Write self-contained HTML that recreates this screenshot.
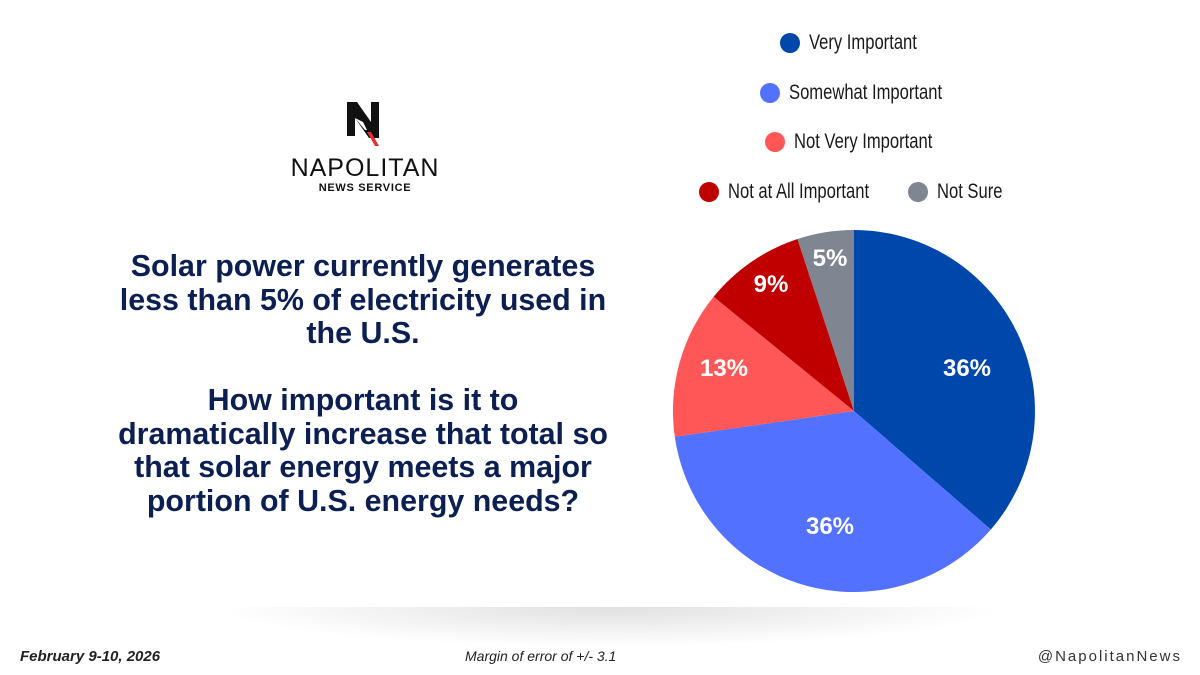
<!DOCTYPE html>
<html><head><style>
body{margin:0;width:1200px;height:675px;background:#fff;position:relative;overflow:hidden;font-family:"Liberation Sans",sans-serif}
.t{position:absolute;left:63px;width:600px;top:250px;text-align:center;font-weight:bold;font-size:30.4px;line-height:33.5px;color:#0c1f52;white-space:nowrap}
.leg{position:absolute;font-size:21px;color:#1a1a1a;display:flex;align-items:center;white-space:nowrap}
.leg i{display:inline-block;width:20px;height:20px;border-radius:50%;margin-right:9px;flex:none}
.leg span{display:inline-block;transform:scaleX(0.79);transform-origin:left center}
.f{position:absolute;top:648px;font-size:15px;font-style:italic;color:#222}
</style></head><body>
<div style="position:absolute;left:215px;top:607px;width:790px;height:40px;background:radial-gradient(ellipse at 50% 0%,rgba(0,0,0,0.12),rgba(0,0,0,0) 70%)"></div>
<svg style="position:absolute;left:345px;top:100px" width="40" height="46" viewBox="0 0 40 46">
<polygon points="2,2 12,2 26,22 26,2 34,2 34,38 24,38 10,18 10,36 2,36" fill="#111"/>
<polygon points="10,18 18,22 22,30 20,30" fill="#fff"/>
<polygon points="22,32 26,32 34,46 30,46" fill="#e03030"/>
</svg>
<div style="position:absolute;left:265px;top:154px;width:200px;text-align:center;font-size:25px;letter-spacing:1px;color:#111">NAPOLITAN</div>
<div style="position:absolute;left:265px;top:182px;width:200px;text-align:center;font-size:11px;font-weight:bold;color:#111;letter-spacing:0.7px">NEWS SERVICE</div>
<div class="t">Solar power currently generates<br>less than 5% of electricity used in<br>the U.S.<br><br>How important is it to<br>dramatically increase that total so<br>that solar energy meets a major<br>portion of U.S. energy needs?</div>
<div class="leg" style="left:780px;top:31px"><i style="background:#0047ab"></i><span>Very Important</span></div>
<div class="leg" style="left:760px;top:81px"><i style="background:#5271ff"></i><span>Somewhat Important</span></div>
<div class="leg" style="left:765px;top:130px"><i style="background:#ff5757"></i><span>Not Very Important</span></div>
<div class="leg" style="left:699px;top:180px"><i style="background:#c00000"></i><span>Not at All Important</span></div>
<div class="leg" style="left:908px;top:180px"><i style="background:#7f8591"></i><span>Not Sure</span></div>
<svg style="position:absolute;left:0;top:0" width="1200" height="675">
<path d="M854,411 L854,230 A181,181 0 0 1 990.8,529.5 Z" fill="#0047ab"/>
<path d="M854,411 L990.8,529.5 A181,181 0 0 1 674.8,436.8 Z" fill="#5271ff"/>
<path d="M854,411 L674.8,436.8 A181,181 0 0 1 713.6,296.8 Z" fill="#ff5757"/>
<path d="M854,411 L713.6,296.8 A181,181 0 0 1 797.5,239 Z" fill="#c00000"/>
<path d="M854,411 L797.5,239 A181,181 0 0 1 854,230 Z" fill="#7f8591"/>
<g font-family="Liberation Sans" font-weight="bold" font-size="24" fill="#fff" text-anchor="middle">
<text x="967" y="376">36%</text>
<text x="830" y="534">36%</text>
<text x="724" y="376">13%</text>
<text x="771" y="292">9%</text>
<text x="830" y="266">5%</text>
</g>
</svg>
<div class="f" style="left:20px;font-weight:bold">February 9-10, 2026</div>
<div class="f" style="left:465px;font-size:14px">Margin of error of +/- 3.1</div>
<div class="f" style="right:18px;font-style:normal;letter-spacing:2px;color:#333">@NapolitanNews</div>
</body></html>
